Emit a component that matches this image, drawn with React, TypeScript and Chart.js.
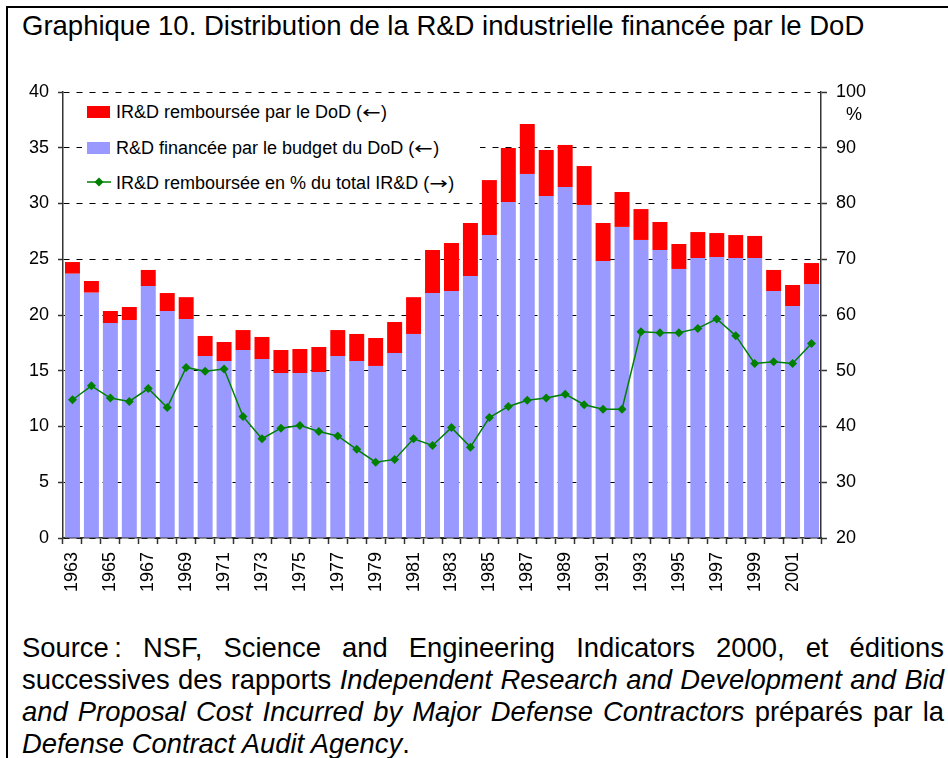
import React, { useEffect, useRef } from 'react';
import { Chart, registerables } from 'chart.js';

Chart.register(...registerables);

const FONT = '"Liberation Sans", Arial, Helvetica, sans-serif';

const years = [
  '1963', '1964', '1965', '1966', '1967', '1968', '1969', '1970', '1971', '1972',
  '1973', '1974', '1975', '1976', '1977', '1978', '1979', '1980', '1981', '1982',
  '1983', '1984', '1985', '1986', '1987', '1988', '1989', '1990', '1991', '1992',
  '1993', '1994', '1995', '1996', '1997', '1998', '1999', '2000', '2001', '2002',
];

// R&D financée par le budget du DoD (milliards, axe gauche)
const budgetDoD = [
  23.7, 22.0, 19.28, 19.55, 22.6, 20.36, 19.64, 16.32, 15.87, 16.86,
  16.05, 14.8, 14.8, 14.89, 16.32, 15.87, 15.43, 16.59, 18.3, 21.97,
  22.15, 23.5, 27.17, 30.13, 32.65, 30.67, 31.48, 29.87, 24.84, 27.9,
  26.73, 25.83, 24.13, 25.11, 25.2, 25.11, 25.11, 22.15, 20.8, 22.78,
];

// IR&D remboursée par le DoD (milliards, axe gauche)
const irdReimbursed = [
  1.05, 1.05, 1.08, 1.17, 1.44, 1.61, 1.96, 1.8, 1.71, 1.79,
  1.98, 2.06, 2.15, 2.24, 2.33, 2.43, 2.51, 2.78, 3.3, 3.86,
  4.31, 4.75, 4.93, 4.85, 4.48, 4.13, 3.77, 3.49, 3.41, 3.13,
  2.77, 2.51, 2.24, 2.33, 2.15, 2.06, 1.98, 1.89, 1.89, 1.88,
];

// IR&D remboursée en % du total IR&D (axe droit)
const irdPercent = [
  44.8, 47.3, 45.1, 44.5, 46.8, 43.4, 50.6, 49.9, 50.3, 41.8,
  37.8, 39.7, 40.2, 39.1, 38.3, 35.9, 33.6, 34.1, 37.8, 36.6,
  39.8, 36.3, 41.6, 43.6, 44.7, 45.1, 45.8, 43.9, 43.1, 43.1,
  57.0, 56.8, 56.8, 57.6, 59.3, 56.3, 51.3, 51.6, 51.3, 54.9,
];

const legendLabels = [
  'IR&D remboursée par le DoD',
  'R&D financée par le budget du DoD',
  'IR&D remboursée en % du total IR&D',
];
const legendArrows = ['\u2190', '\u2190', '\u2192'];

const RED = '#FF0000';
const BLUE = '#9999FF';
const GREEN = '#008000';
const AXIS = '#333333';

export default function App() {
  const ref = useRef<HTMLCanvasElement>(null);

  useEffect(() => {
    if (!ref.current) return;
    const tickFont = { family: FONT, size: 18 };
    const chart = new Chart(ref.current, {
      type: 'bar',
      data: {
        labels: years,
        datasets: [
          {
            type: 'line',
            label: legendLabels[2],
            data: irdPercent,
            yAxisID: 'y1',
            borderColor: GREEN,
            backgroundColor: GREEN,
            borderWidth: 1.5,
            pointStyle: 'rectRot',
            pointRadius: 4.5,
            pointBackgroundColor: GREEN,
            pointBorderColor: GREEN,
            pointBorderWidth: 0,
            tension: 0,
            order: 0,
          } as any,
          {
            type: 'bar',
            label: legendLabels[1],
            data: budgetDoD,
            yAxisID: 'y',
            backgroundColor: BLUE,
            borderWidth: 0,
            stack: 'a',
            categoryPercentage: 1,
            barPercentage: 0.79,
            order: 1,
          },
          {
            type: 'bar',
            label: legendLabels[0],
            data: irdReimbursed,
            yAxisID: 'y',
            backgroundColor: RED,
            borderWidth: 0,
            stack: 'a',
            categoryPercentage: 1,
            barPercentage: 0.79,
            order: 1,
          },
        ],
      },
      options: {
        animation: false,
        responsive: false,
        maintainAspectRatio: false,
        layout: { padding: { top: 92, left: 0, right: 0, bottom: 0 } },
        plugins: {
          legend: { display: false },
          title: { display: false },
          tooltip: { enabled: false },
        },
        scales: {
          x: {
            type: 'category',
            stacked: true,
            offset: true,
            afterFit: (s: any) => { s.height = 62; },
            grid: {
              offset: true,
              drawOnChartArea: false,
              drawTicks: true,
              tickLength: 6,
              tickColor: AXIS,
              tickWidth: 1.5,
            },
            border: { display: true, color: AXIS, width: 1.5 },
            ticks: {
              autoSkip: false,
              minRotation: 90,
              maxRotation: 90,
              padding: 8,
              color: '#000',
              font: tickFont,
              callback: (_v: any, i: number) => (i % 2 === 0 ? years[i] : ''),
            },
          },
          y: {
            type: 'linear',
            position: 'left',
            stacked: true,
            min: 0,
            max: 40,
            afterFit: (s: any) => { s.width = 63; },
            grid: {
              drawOnChartArea: true,
              color: '#000',
              lineWidth: 1,
              tickLength: 5,
              tickColor: AXIS,
              tickWidth: 1.5,
            },
            border: { display: true, color: AXIS, width: 1.5, dash: [6, 7] },
            ticks: {
              stepSize: 5,
              padding: 9,
              color: '#000',
              font: tickFont,
            },
          },
          y1: {
            type: 'linear',
            position: 'right',
            stacked: false,
            min: 20,
            max: 100,
            afterFit: (s: any) => { s.width = 127; },
            grid: {
              drawOnChartArea: false,
              tickLength: 6,
              tickColor: AXIS,
              tickWidth: 1.5,
            },
            border: { display: true, color: AXIS, width: 1.5 },
            ticks: {
              stepSize: 10,
              padding: 9,
              color: '#000',
              font: tickFont,
            },
          },
        },
      },
    });
    return () => chart.destroy();
  }, []);

  const legendText: React.CSSProperties = {
    position: 'absolute',
    left: 116,
    fontSize: 18,
    lineHeight: '20px',
    whiteSpace: 'nowrap',
    color: '#000',
  };
  const arrowStyle: React.CSSProperties = {
    fontFamily: '"DejaVu Sans", sans-serif',
    fontSize: 17,
    display: 'inline-block',
    width: 19,
    textAlign: 'center',
    transform: 'scaleX(1.3)',
  };

  const srcLine: React.CSSProperties = {
    position: 'absolute',
    left: 22,
    width: 922,
    fontSize: 27.4,
    lineHeight: '32px',
    textAlign: 'justify',
    textAlignLast: 'justify' as any,
    color: '#000',
  };

  return (
    <div
      style={{
        position: 'fixed',
        left: 0,
        top: 0,
        width: 948,
        height: 758,
        background: '#fff',
        overflow: 'hidden',
        fontFamily: FONT,
      }}
    >
      <div
        style={{
          position: 'absolute',
          left: 6,
          top: 6,
          right: -10,
          bottom: -10,
          borderTop: '2px solid #000',
          borderLeft: '2px solid #000',
        }}
      />
      <div
        style={{
          position: 'absolute',
          left: 22,
          top: 12,
          fontSize: 27.5,
          lineHeight: '27px',
          whiteSpace: 'nowrap',
          color: '#000',
        }}
      >
        Graphique 10. Distribution de la R&amp;D industrielle financée par le DoD
      </div>

      <canvas
        ref={ref}
        width={948}
        height={600}
        style={{ position: 'absolute', left: 0, top: 0, width: 948, height: 600 }}
      />

      {/* Legend box (white background masks the grid lines) */}
      <div style={{ position: 'absolute', left: 82, top: 98, width: 398, height: 98, background: '#fff' }} />
      <div style={{ position: 'absolute', left: 87, top: 106, width: 23, height: 12, background: RED }} />
      <div style={{ ...legendText, top: 102 }}>
        {legendLabels[0]} (<span style={arrowStyle}>{legendArrows[0]}</span>)
      </div>
      <div style={{ position: 'absolute', left: 87, top: 142, width: 23, height: 12, background: BLUE }} />
      <div style={{ ...legendText, top: 138 }}>
        {legendLabels[1]} (<span style={arrowStyle}>{legendArrows[1]}</span>)
      </div>
      <svg style={{ position: 'absolute', left: 86, top: 176 }} width={26} height={12}>
        <line x1={1} y1={6} x2={25} y2={6} stroke={GREEN} strokeWidth={1.5} />
        <polygon points="13,1.5 17.5,6 13,10.5 8.5,6" fill={GREEN} />
      </svg>
      <div style={{ ...legendText, top: 173 }}>
        {legendLabels[2]} (<span style={arrowStyle}>{legendArrows[2]}</span>)
      </div>

      {/* Right axis unit */}
      <div
        style={{
          position: 'absolute',
          left: 846,
          top: 104,
          fontSize: 18,
          lineHeight: '20px',
          color: '#000',
        }}
      >
        %
      </div>

      {/* Source */}
      <div style={{ ...srcLine, top: 632 }}>
        Source{'\u202F'}: NSF, Science and Engineering Indicators 2000, et éditions
      </div>
      <div style={{ ...srcLine, top: 664 }}>
        successives des rapports <i>Independent Research and Development and Bid</i>
      </div>
      <div style={{ ...srcLine, top: 696 }}>
        <i>and Proposal Cost Incurred by Major Defense Contractors</i> préparés par la
      </div>
      <div style={{ ...srcLine, top: 728, textAlign: 'left', textAlignLast: 'left' as any }}>
        <i>Defense Contract Audit Agency</i>.
      </div>
    </div>
  );
}
